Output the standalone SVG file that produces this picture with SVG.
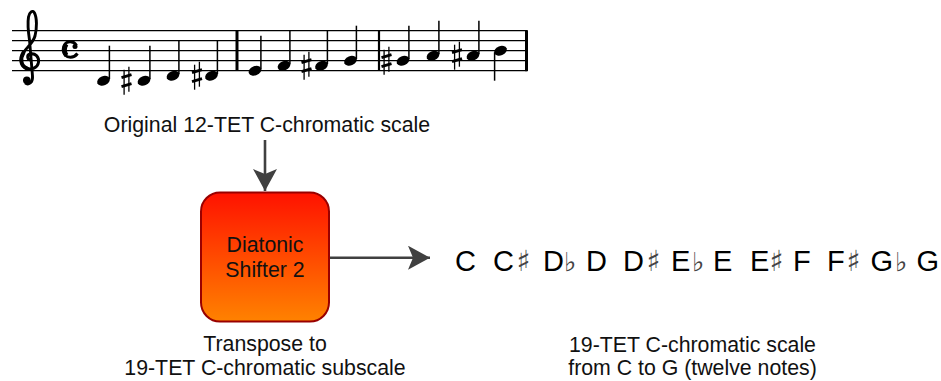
<svg xmlns="http://www.w3.org/2000/svg" xmlns:xlink="http://www.w3.org/1999/xlink" width="941" height="381" viewBox="0 0 941 381">
<style>
  .lbl { font-family: "Liberation Sans", Arial, Helvetica, sans-serif; font-size: 21.3px; fill: #111; }
  .note { font-family: "Liberation Sans", Arial, Helvetica, sans-serif; font-size: 29px; fill: #000; }
  .sharp { font-family: "DejaVu Sans", "Noto Sans", sans-serif; font-size: 29px; fill: #444; }
  .flat { font-family: "DejaVu Sans", "Noto Sans", sans-serif; font-size: 26px; fill: #444; }
  .staffline { stroke: #000; stroke-width: 1.3; }
  .bar { stroke: #000; }
  .conn { stroke: #404040; stroke-width: 2.6; fill: none; }
</style>
<defs>
  <linearGradient id="boxgrad" x1="0" y1="0" x2="0" y2="1">
    <stop offset="0" stop-color="#ff1200"/>
    <stop offset="1" stop-color="#ff8200"/>
  </linearGradient>
  <marker id="arrow" viewBox="0 0 22 24" refX="22" refY="12" markerWidth="22" markerHeight="24" markerUnits="userSpaceOnUse" orient="auto">
    <path d="M0,0 L22,12 L0,24 L5,12 Z" fill="#404040"/>
  </marker>
  <g id="qu">
    <ellipse rx="6.6" ry="4.6" transform="rotate(-22)" fill="#000"/>
    <line x1="5.9" y1="-1.5" x2="5.9" y2="-35" stroke="#000" stroke-width="1.5"/>
  </g>
  <g id="qd">
    <ellipse rx="6.6" ry="4.6" transform="rotate(-22)" fill="#000"/>
    <line x1="-5.9" y1="1.5" x2="-5.9" y2="30" stroke="#000" stroke-width="1.5"/>
  </g>
  <g id="sh" stroke="#000">
    <line x1="-2.4" y1="-11" x2="-2.4" y2="14" stroke-width="1.3"/>
    <line x1="2.4" y1="-14" x2="2.4" y2="11" stroke-width="1.3"/>
    <line x1="-5" y1="-3" x2="5" y2="-6" stroke-width="2.8"/>
    <line x1="-5" y1="6" x2="5" y2="3" stroke-width="2.8"/>
  </g>
</defs>

<g id="staff">
  <line class="staffline" x1="12" y1="30.7" x2="527" y2="30.7"/>
  <line class="staffline" x1="12" y1="40.7" x2="527" y2="40.7"/>
  <line class="staffline" x1="12" y1="50.7" x2="527" y2="50.7"/>
  <line class="staffline" x1="12" y1="60.7" x2="527" y2="60.7"/>
  <line class="staffline" x1="12" y1="70.7" x2="527" y2="70.7"/>
  <!-- treble clef -->
  <path d="M31,60 C27,60 26.5,55 30,54 C35,52.5 39.5,57 38.5,62.5 C37.5,68 31.5,70 27,68.5 C21,66.5 19.5,59 23.5,52.5 C27,47 33,43 35,36 C37,28 37,18 34.5,13 C32.5,9.5 29.5,12 28.5,17 C27.5,23 28,30 29.5,40 L32.5,76 C33,82 29.5,85 26,83.5" fill="none" stroke="#000" stroke-width="2.9" stroke-linecap="round" stroke-linejoin="round"/>
  <path d="M23.5,52.5 C19.5,59 21,66.5 27,68.5" fill="none" stroke="#000" stroke-width="4" stroke-linecap="round"/>
  <circle cx="26.8" cy="80.2" r="3.8" fill="#000"/>
  <!-- common time -->
  <path d="M76.5,45.5 C74.5,42.3 71.5,41.5 69.5,41.8 C65,42.3 63.2,46 63.2,49.5 C63.2,54 66,57.3 70.5,57.3 C73.5,57.3 76,55.5 77.5,53.5" fill="none" stroke="#000" stroke-width="3"/>
  <path d="M66.5,44 C64,47 64,52.5 66.5,55.5" fill="none" stroke="#000" stroke-width="4.5"/>
  <circle cx="75" cy="46.6" r="2.5" fill="#000"/>
  <!-- measure 1 -->
  <use xlink:href="#qu" href="#qu" x="103.5" y="80.7"/>
  <use xlink:href="#sh" href="#sh" x="126.5" y="80.7"/>
  <use xlink:href="#qu" href="#qu" x="144" y="80.7"/>
  <use xlink:href="#qu" href="#qu" x="173" y="75.7"/>
  <use xlink:href="#sh" href="#sh" x="197" y="75.7"/>
  <use xlink:href="#qu" href="#qu" x="211.5" y="75.7"/>
  <line class="bar" x1="237" y1="30.7" x2="237" y2="70.7" stroke-width="3"/>
  <!-- measure 2 -->
  <use xlink:href="#qu" href="#qu" x="255" y="70.7"/>
  <use xlink:href="#qu" href="#qu" x="284" y="65.7"/>
  <use xlink:href="#sh" href="#sh" x="306.5" y="65.7"/>
  <use xlink:href="#qu" href="#qu" x="321.5" y="65.7"/>
  <use xlink:href="#qu" href="#qu" x="350.5" y="60.7"/>
  <line class="bar" x1="379" y1="30.7" x2="379" y2="70.7" stroke-width="2.2"/>
  <!-- measure 3 -->
  <use xlink:href="#sh" href="#sh" x="386.5" y="60.7"/>
  <use xlink:href="#qu" href="#qu" x="403" y="60.7"/>
  <use xlink:href="#qu" href="#qu" x="433" y="55.7"/>
  <use xlink:href="#sh" href="#sh" x="457" y="55.7"/>
  <use xlink:href="#qu" href="#qu" x="473" y="55.7"/>
  <use xlink:href="#qd" href="#qd" x="500.5" y="50.7"/>
  <line class="bar" x1="526.5" y1="30.2" x2="526.5" y2="71.2" stroke-width="3"/>
</g>

<g id="label-original">
  <text class="lbl" x="267" y="131.5" text-anchor="middle">Original 12-TET C-chromatic scale</text>
</g>

<g id="node-shifter">
  <rect x="201" y="192.5" width="128" height="129" rx="19" ry="19" fill="url(#boxgrad)" stroke="#990000" stroke-width="2"/>
  <text class="lbl" x="265" y="251.7" text-anchor="middle">Diatonic</text>
  <text class="lbl" x="265" y="276.7" text-anchor="middle">Shifter 2</text>
</g>

<g id="label-transpose">
  <text class="lbl" x="265" y="351" text-anchor="middle">Transpose to</text>
  <text class="lbl" x="265" y="375" text-anchor="middle">19-TET C-chromatic subscale</text>
</g>

<g id="node-19tet-scale">
  <text class="note" y="271.3"><tspan x="455">C</tspan><tspan x="493">C</tspan><tspan class="sharp" x="516.5">♯</tspan><tspan x="543">D</tspan><tspan class="flat" x="564">♭</tspan><tspan x="586">D</tspan><tspan x="623">D</tspan><tspan class="sharp" x="646.5">♯</tspan><tspan x="671">E</tspan><tspan class="flat" x="692">♭</tspan><tspan x="713">E</tspan><tspan x="750">E</tspan><tspan class="sharp" x="769.5">♯</tspan><tspan x="793">F</tspan><tspan x="827">F</tspan><tspan class="sharp" x="846.5">♯</tspan><tspan x="870.5">G</tspan><tspan class="flat" x="895">♭</tspan><tspan x="916.5">G</tspan></text>
</g>

<g id="label-19tet">
  <text class="lbl" x="692.5" y="351.5" text-anchor="middle">19-TET C-chromatic scale</text>
  <text class="lbl" x="692.5" y="375" text-anchor="middle">from C to G (twelve notes)</text>
</g>

<g id="connectors">
  <line class="conn" x1="265" y1="140" x2="265" y2="191" marker-end="url(#arrow)"/>
  <line class="conn" x1="330" y1="257.7" x2="430" y2="257.7" marker-end="url(#arrow)"/>
</g>
</svg>
